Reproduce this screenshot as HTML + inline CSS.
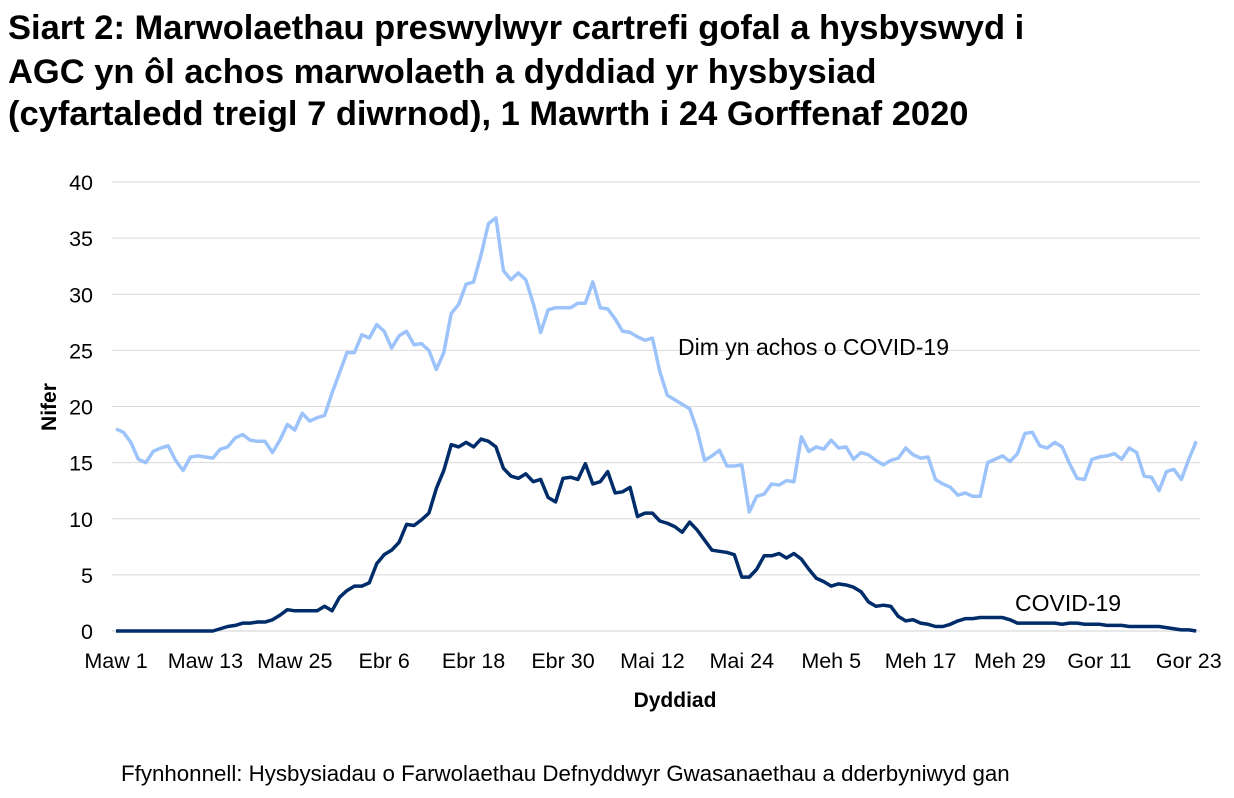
<!DOCTYPE html>
<html><head><meta charset="utf-8"><style>
body{margin:0;background:#fff;font-family:"Liberation Sans",Arial,sans-serif;}
#wrap{position:relative;width:1234px;height:798px;overflow:hidden;}
</style></head><body>
<div id="wrap">
<svg id="chart" width="1234" height="798" xmlns="http://www.w3.org/2000/svg">
<text x="8" y="39" font-size="34.5" font-weight="bold" fill="#000">Siart 2: Marwolaethau preswylwyr cartrefi gofal a hysbyswyd i</text>
<text x="8" y="83" font-size="34.5" font-weight="bold" fill="#000">AGC yn ôl achos marwolaeth a dyddiad yr hysbysiad</text>
<text x="8" y="125" font-size="34.5" font-weight="bold" fill="#000">(cyfartaledd treigl 7 diwrnod), 1 Mawrth i 24 Gorffenaf 2020</text>
<g id="grid"></g><g id="yt"></g><g id="xt"></g><g id="series"></g>
<text x="56" y="407" font-size="21" font-weight="bold" text-anchor="middle" transform="rotate(-90 56 407)">Nifer</text>
<text x="675" y="707" font-size="21" font-weight="bold" text-anchor="middle">Dyddiad</text>
<text x="678" y="355" font-size="23">Dim yn achos o COVID-19</text>
<text x="1015" y="611" font-size="23">COVID-19</text>
<text x="121" y="781" font-size="22.3">Ffynhonnell: Hysbysiadau o Farwolaethau Defnyddwyr Gwasanaethau a dderbyniwyd gan</text>
</svg>
</div>
<script>
const yTicks=[0,5,10,15,20,25,30,35,40];
const xTickLabels=["Maw 1","Maw 13","Maw 25","Ebr 6","Ebr 18","Ebr 30","Mai 12","Mai 24","Meh 5","Meh 17","Meh 29","Gor 11","Gor 23"];
const xTickDays=[0,12,24,36,48,60,72,84,96,108,120,132,144];
const nonCovid=[18,17.7,16.8,15.3,15,16,16.3,16.5,15.2,14.3,15.5,15.6,15.5,15.4,16.2,16.4,17.2,17.5,17,16.9,16.9,15.9,17,18.4,17.9,19.4,18.7,19,19.2,21.2,23,24.8,24.8,26.4,26.1,27.3,26.7,25.2,26.3,26.7,25.5,25.6,25,23.3,24.8,28.3,29.1,30.9,31.1,33.5,36.3,36.8,32.1,31.3,31.9,31.3,29.2,26.6,28.6,28.8,28.8,28.8,29.2,29.2,31.1,28.8,28.7,27.8,26.7,26.6,26.2,25.9,26.1,23.1,21,20.6,20.2,19.8,17.9,15.2,15.6,16.1,14.7,14.7,14.8,10.6,12,12.2,13.1,13,13.4,13.3,17.3,16,16.4,16.2,17,16.3,16.4,15.3,15.9,15.7,15.2,14.8,15.2,15.4,16.3,15.7,15.4,15.5,13.5,13.1,12.8,12.1,12.3,12,12,15,15.3,15.6,15.1,15.8,17.6,17.7,16.5,16.3,16.8,16.4,14.9,13.6,13.5,15.3,15.5,15.6,15.8,15.3,16.3,15.9,13.8,13.7,12.5,14.2,14.4,13.5,15.3,16.9];
const covid=[0,0,0,0,0,0,0,0,0,0,0,0,0,0,0.2,0.4,0.5,0.7,0.7,0.8,0.8,1,1.4,1.9,1.8,1.8,1.8,1.8,2.2,1.8,3,3.6,4,4,4.3,6,6.8,7.2,7.9,9.5,9.4,9.9,10.5,12.7,14.3,16.6,16.4,16.8,16.4,17.1,16.9,16.4,14.5,13.8,13.6,14,13.3,13.5,11.9,11.5,13.6,13.7,13.5,14.9,13.1,13.3,14.2,12.3,12.4,12.8,10.2,10.5,10.5,9.8,9.6,9.3,8.8,9.7,9,8.1,7.2,7.1,7,6.8,4.8,4.8,5.5,6.7,6.7,6.9,6.5,6.9,6.4,5.5,4.7,4.4,4,4.2,4.1,3.9,3.5,2.6,2.2,2.3,2.2,1.3,0.9,1,0.7,0.6,0.4,0.4,0.6,0.9,1.1,1.1,1.2,1.2,1.2,1.2,1,0.7,0.7,0.7,0.7,0.7,0.7,0.6,0.7,0.7,0.6,0.6,0.6,0.5,0.5,0.5,0.4,0.4,0.4,0.4,0.4,0.3,0.2,0.1,0.1,0];
const NS="http://www.w3.org/2000/svg";
const x=d=>116+d*7.45;
const y=v=>631-v*11.225;
function mk(t,a,p){const e=document.createElementNS(NS,t);for(const k in a)e.setAttribute(k,a[k]);p.appendChild(e);return e;}
const grid=document.getElementById('grid'),yt=document.getElementById('yt'),xt=document.getElementById('xt'),ser=document.getElementById('series');
yTicks.forEach(v=>{
 const l=mk('line',{x1:112,x2:1200,y1:y(v),y2:y(v),stroke:v===0?'#d0d0d0':'#d9d9d9','stroke-width':1},grid);
 
 
 const t=mk('text',{x:93,y:y(v)+8,'font-size':21.5,'text-anchor':'end'},yt);
 t.textContent=v;
 
 
});
xTickLabels.forEach((lab,i)=>{
 const t=mk('text',{x:x(xTickDays[i]),y:668,'font-size':21.5,'text-anchor':'middle'},xt);
 t.textContent=lab;
 
 
});
function line(arr,col,name){
 const p=mk('polyline',{points:arr.map((v,i)=>x(i)+','+y(v)).join(' '),fill:'none',stroke:col,'stroke-width':3.5,'stroke-linejoin':'round'},ser);
 
 
}
line(nonCovid,'#9dc3fb','line-non-covid');
line(covid,'#002d6a','line-covid');
</script>
</body></html>
